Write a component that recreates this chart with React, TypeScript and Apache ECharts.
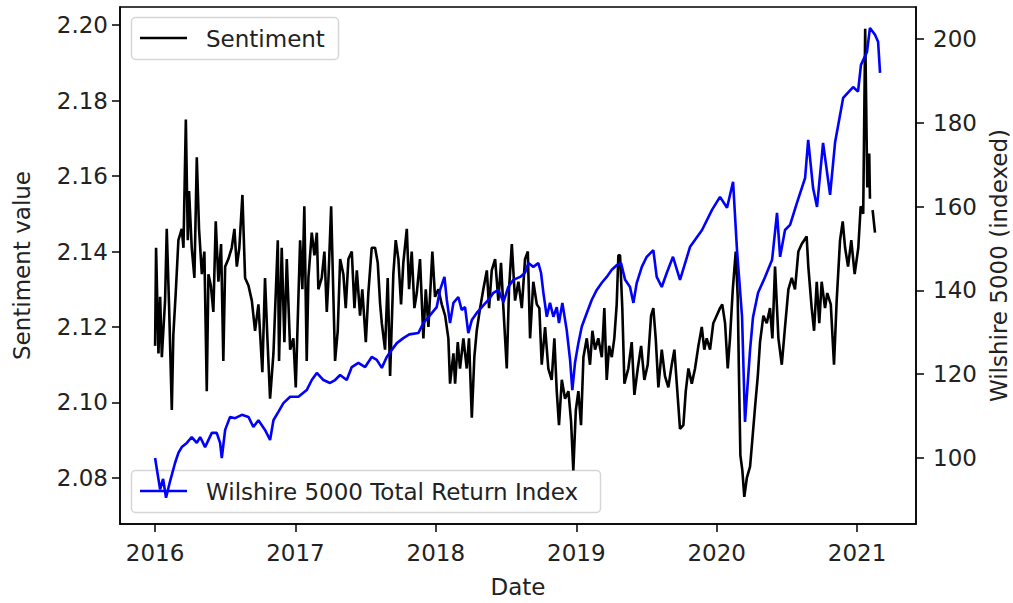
import React, { useEffect, useRef } from "react";
import * as echarts from "echarts";

// Sentiment (left axis), x in decimal years
const sentimentDates: number[] = [
  2016.0, 2016.007, 2016.024, 2016.036, 2016.048, 2016.071, 2016.083, 2016.1, 2016.119, 2016.13,
  2016.147, 2016.166, 2016.19, 2016.202, 2016.219, 2016.233, 2016.242, 2016.261, 2016.28, 2016.297,
  2016.313, 2016.333, 2016.351, 2016.368, 2016.38, 2016.397, 2016.415, 2016.432, 2016.451, 2016.47,
  2016.486, 2016.499, 2016.522, 2016.546, 2016.565, 2016.582, 2016.6, 2016.622, 2016.641, 2016.665,
  2016.689, 2016.712, 2016.736, 2016.764, 2016.783, 2016.8, 2016.819, 2016.843, 2016.874, 2016.883,
  2016.902, 2016.921, 2016.938, 2016.962, 2016.985, 2017.002, 2017.021, 2017.033, 2017.049, 2017.063,
  2017.08, 2017.092, 2017.116, 2017.135, 2017.152, 2017.163, 2017.187, 2017.206, 2017.223, 2017.234,
  2017.254, 2017.27, 2017.282, 2017.301, 2017.318, 2017.341, 2017.358, 2017.377, 2017.401, 2017.42,
  2017.437, 2017.46, 2017.476, 2017.501, 2017.519, 2017.543, 2017.567, 2017.586, 2017.603, 2017.615,
  2017.638, 2017.657, 2017.674, 2017.697, 2017.714, 2017.733, 2017.752, 2017.768, 2017.793, 2017.809,
  2017.828, 2017.847, 2017.864, 2017.887, 2017.911, 2017.928, 2017.947, 2017.975, 2017.994, 2018.018,
  2018.042, 2018.066, 2018.089, 2018.101, 2018.125, 2018.137, 2018.156, 2018.172, 2018.196, 2018.22,
  2018.236, 2018.256, 2018.274, 2018.291, 2018.315, 2018.338, 2018.363, 2018.379, 2018.398, 2018.422,
  2018.445, 2018.464, 2018.481, 2018.505, 2018.521, 2018.541, 2018.564, 2018.588, 2018.612, 2018.635,
  2018.655, 2018.671, 2018.694, 2018.719, 2018.737, 2018.754, 2018.778, 2018.801, 2018.825, 2018.844,
  2018.861, 2018.877, 2018.897, 2018.92, 2018.944, 2018.963, 2018.979, 2018.997, 2019.015, 2019.034,
  2019.051, 2019.075, 2019.098, 2019.115, 2019.134, 2019.157, 2019.182, 2019.2, 2019.217, 2019.234,
  2019.253, 2019.271, 2019.288, 2019.3, 2019.312, 2019.328, 2019.343, 2019.371, 2019.395, 2019.414,
  2019.438, 2019.462, 2019.485, 2019.509, 2019.533, 2019.549, 2019.566, 2019.585, 2019.609, 2019.632,
  2019.656, 2019.68, 2019.699, 2019.716, 2019.739, 2019.763, 2019.78, 2019.799, 2019.823, 2019.846,
  2019.87, 2019.894, 2019.912, 2019.929, 2019.953, 2019.976, 2020.0, 2020.024, 2020.04, 2020.06,
  2020.079, 2020.095, 2020.115, 2020.136, 2020.15, 2020.16, 2020.169, 2020.183, 2020.197, 2020.215,
  2020.238, 2020.254, 2020.274, 2020.293, 2020.309, 2020.333, 2020.357, 2020.38, 2020.397, 2020.416,
  2020.44, 2020.464, 2020.487, 2020.511, 2020.535, 2020.558, 2020.582, 2020.606, 2020.641, 2020.653,
  2020.677, 2020.694, 2020.713, 2020.731, 2020.748, 2020.772, 2020.788, 2020.813, 2020.836, 2020.855,
  2020.879, 2020.898, 2020.915, 2020.936, 2020.959, 2020.983, 2021.009, 2021.026, 2021.044, 2021.058,
  2021.073, 2021.087, 2021.092, 2021.1, 2021.111, 2021.128,
];
const sentimentValues: (number | null)[] = [
  2.115, 2.141, 2.113, 2.128, 2.112, 2.127, 2.146, 2.125, 2.098, 2.118,
  2.129, 2.143, 2.146, 2.141, 2.175, 2.143, 2.156, 2.141, 2.133, 2.165,
  2.146, 2.134, 2.14, 2.103, 2.134, 2.131, 2.124, 2.148, 2.132, 2.142,
  2.111, 2.136, 2.138, 2.141, 2.146, 2.136, 2.141, 2.155, 2.133, 2.131,
  2.127, 2.119, 2.126, 2.108, 2.133, 2.117, 2.101, 2.113, 2.143, 2.111,
  2.141, 2.116, 2.138, 2.114, 2.117, 2.104, 2.128, 2.143, 2.13, 2.152,
  2.111, 2.133, 2.145, 2.139, 2.145, 2.13, 2.133, 2.14, 2.124, 2.132,
  2.152, 2.128, 2.111, 2.119, 2.138, 2.134, 2.125, 2.138, 2.14, 2.125,
  2.135, 2.123, 2.13, 2.116, 2.129, 2.141, 2.141, 2.137, 2.126, 2.121,
  2.114, 2.133, 2.107, 2.134, 2.143, 2.138, 2.126, 2.137, 2.146, 2.13,
  2.14, 2.125, 2.129, 2.138, 2.117, 2.13, 2.12, 2.14, 2.128, 2.13,
  2.126, 2.123, 2.117, 2.105, 2.113, 2.105, 2.116, 2.109, 2.117, 2.109,
  2.117, 2.096, 2.112, 2.119, 2.125, 2.13, 2.135, 2.125, 2.135, 2.138,
  2.127, 2.137, 2.125, 2.109, 2.13, 2.142, 2.127, 2.132, 2.125, 2.138,
  2.14, 2.117, 2.132, 2.126, 2.125, 2.11, 2.12, 2.109, 2.106, 2.117,
  2.103, 2.094, 2.106, 2.101, 2.103, 2.095, 2.082, 2.098, 2.103, 2.094,
  2.112, 2.117, 2.11, 2.119, 2.114, 2.117, 2.112, 2.125, 2.106, 2.115,
  2.112, 2.117, 2.126, 2.139, 2.139, 2.125, 2.105, 2.109, 2.116, 2.102,
  2.109, 2.115, 2.106, 2.11, 2.123, 2.125, 2.117, 2.104, 2.114, 2.107,
  2.104, 2.11, 2.114, 2.105, 2.093, 2.094, 2.103, 2.109, 2.105, 2.109,
  2.115, 2.12, 2.114, 2.117, 2.114, 2.121, 2.123, 2.125, 2.126, 2.121,
  2.109, 2.117, 2.13, 2.14, 2.128, 2.105, 2.086, 2.082, 2.075, 2.08,
  2.083, 2.09, 2.099, 2.107, 2.116, 2.123, 2.121, 2.125, 2.117, 2.136,
  2.117, 2.11, 2.12, 2.13, 2.133, 2.13, 2.14, 2.142, 2.144, 2.136,
  2.125, 2.119, 2.132, 2.121, 2.132, 2.125, 2.129, 2.126, 2.11, 2.127,
  2.143, 2.148, 2.141, 2.136, 2.143, 2.134, 2.141, 2.152, 2.15, 2.199,
  2.157, 2.166, 2.154, null, 2.151, 2.145,
];

// Wilshire 5000 Total Return Index, indexed (right axis)
const wilshireDates: number[] = [
  2016.0, 2016.014, 2016.036, 2016.057, 2016.078, 2016.107, 2016.142, 2016.166, 2016.19, 2016.226,
  2016.261, 2016.297, 2016.321, 2016.356, 2016.404, 2016.439, 2016.463, 2016.475, 2016.499, 2016.534,
  2016.57, 2016.618, 2016.665, 2016.7, 2016.736, 2016.783, 2016.819, 2016.843, 2016.878, 2016.914,
  2016.962, 2017.021, 2017.08, 2017.116, 2017.152, 2017.199, 2017.246, 2017.282, 2017.318, 2017.365,
  2017.401, 2017.448, 2017.496, 2017.543, 2017.579, 2017.615, 2017.65, 2017.686, 2017.722, 2017.768,
  2017.811, 2017.875, 2017.911, 2017.959, 2018.006, 2018.03, 2018.061, 2018.078, 2018.101, 2018.125,
  2018.16, 2018.184, 2018.208, 2018.231, 2018.256, 2018.291, 2018.327, 2018.374, 2018.41, 2018.445,
  2018.481, 2018.516, 2018.552, 2018.6, 2018.635, 2018.659, 2018.694, 2018.73, 2018.749, 2018.766,
  2018.79, 2018.813, 2018.837, 2018.861, 2018.877, 2018.901, 2018.932, 2018.956, 2018.972, 2018.991,
  2019.015, 2019.039, 2019.075, 2019.11, 2019.146, 2019.182, 2019.217, 2019.253, 2019.288, 2019.319,
  2019.348, 2019.383, 2019.407, 2019.431, 2019.467, 2019.502, 2019.549, 2019.573, 2019.609, 2019.645,
  2019.689, 2019.739, 2019.811, 2019.896, 2019.967, 2020.024, 2020.074, 2020.117, 2020.145, 2020.181,
  2020.202, 2020.238, 2020.259, 2020.295, 2020.345, 2020.395, 2020.43, 2020.452, 2020.487, 2020.523,
  2020.573, 2020.63, 2020.652, 2020.687, 2020.715, 2020.758, 2020.808, 2020.844, 2020.901, 2020.972,
  2021.007, 2021.028, 2021.071, 2021.092, 2021.128, 2021.15, 2021.164,
];
const wilshireValues: number[] = [
  100.0, 97.0, 92.5, 95.0, 90.5, 94.5, 98.8, 101.2, 102.6, 103.6,
  105.0, 103.6, 105.0, 102.6, 106.0, 106.0, 103.6, 100.0, 106.7, 109.8,
  109.5, 110.3, 109.8, 107.4, 109.0, 106.7, 104.3, 109.0, 111.0, 113.1,
  114.6, 114.6, 116.2, 118.6, 120.3, 118.6, 117.9, 118.6, 119.8, 118.6,
  121.7, 122.7, 121.7, 124.1, 123.4, 121.5, 124.1, 125.8, 127.4, 128.6,
  129.5, 129.8, 132.2, 134.1, 136.0, 140.1, 143.2, 137.7, 132.2, 137.0,
  138.4, 135.3, 136.0, 129.8, 132.9, 134.6, 136.0, 137.7, 139.4, 140.1,
  137.2, 140.8, 142.5, 143.2, 144.2, 146.5, 145.6, 146.5, 144.2, 139.4,
  133.7, 137.0, 133.7, 136.0, 132.2, 137.0, 130.5, 123.4, 116.2, 122.7,
  127.4, 131.3, 134.6, 137.7, 140.1, 141.8, 143.2, 144.9, 146.0, 146.5,
  142.5, 140.8, 137.0, 141.8, 145.6, 148.0, 149.6, 143.2, 140.8, 144.2,
  148.0, 142.5, 150.4, 154.4, 159.2, 162.3, 159.7, 165.9, 149.6, 133.7,
  108.6, 125.8, 133.6, 139.4, 143.2, 147.3, 158.5, 148.0, 154.4, 155.6,
  161.0, 166.8, 175.9, 164.4, 159.9, 175.2, 162.8, 175.4, 185.9, 188.5,
  187.4, 193.8, 196.9, 202.6, 201.0, 199.3, 191.9,
];

const yearTicks: number[] = [2016, 2017, 2018, 2019, 2020, 2021];
const sentimentTicks: number[] = [2.08, 2.1, 2.12, 2.14, 2.16, 2.18, 2.2];
const wilshireTicks: number[] = [100, 120, 140, 160, 180, 200];

const FONT = "DejaVu Sans";
const FS = 23;
const TXT = "#222222";

export default function App() {
  const ref = useRef<HTMLDivElement>(null);
  useEffect(() => {
    if (!ref.current) return;
    const chart = echarts.init(ref.current, undefined, { renderer: "svg" });
    const sentData = sentimentDates.map((d, i) => [d, sentimentValues[i] === null ? "-" : sentimentValues[i]]);
    const wilData = wilshireDates.map((d, i) => [d, wilshireValues[i]]);
    const tickStyle = { show: true, inside: false, length: 8, lineStyle: { color: "#000", width: 1.5 } };
    const labelStyle = { fontFamily: FONT, fontSize: FS, color: TXT };
    const axisLine = { show: true, lineStyle: { color: "#000", width: 1.5 } };
    chart.setOption({
      animation: false,
      backgroundColor: "#fff",
      grid: {
        left: 120, right: 97, top: 7, bottom: 79,
        containLabel: false,
        outerBoundsMode: "none",
        show: true, borderColor: "#000", borderWidth: 1.5, backgroundColor: "transparent",
      },
      xAxis: {
        type: "value",
        min: 2015.75,
        max: 2021.42,
        name: "Date",
        nameLocation: "middle",
        nameGap: 51,
        nameTextStyle: { fontFamily: FONT, fontSize: FS, color: TXT },
        axisLine,
        axisTick: { ...tickStyle, customValues: yearTicks },
        axisLabel: { ...labelStyle, margin: 17, customValues: yearTicks, formatter: (v: number) => String(Math.round(v)) },
        splitLine: { show: false },
      },
      yAxis: [
        {
          type: "value",
          position: "left",
          min: 2.0678,
          max: 2.2048,
          name: "Sentiment value",
          nameLocation: "middle",
          nameGap: 87,
          nameTextStyle: { fontFamily: FONT, fontSize: FS, color: TXT },
          axisLine,
          axisTick: { ...tickStyle, customValues: sentimentTicks },
          axisLabel: { ...labelStyle, margin: 12, customValues: sentimentTicks, formatter: (v: number) => v.toFixed(2) },
          splitLine: { show: false },
        },
        {
          type: "value",
          position: "right",
          min: 84.25,
          max: 207.6,
          name: "Wilshire 5000 (indexed)",
          nameLocation: "middle",
          nameGap: 68,
          nameRotate: 90,
          nameTextStyle: { fontFamily: FONT, fontSize: FS, color: TXT },
          axisLine,
          axisTick: { ...tickStyle, customValues: wilshireTicks },
          axisLabel: { ...labelStyle, margin: 17, customValues: wilshireTicks, formatter: (v: number) => String(v) },
          splitLine: { show: false },
        },
      ],
      series: [
        {
          name: "Sentiment",
          type: "line",
          yAxisIndex: 0,
          data: sentData,
          showSymbol: false,
          symbol: "none",
          connectNulls: false,
          lineStyle: { color: "#000000", width: 2.6 },
          z: 2,
        },
        {
          name: "Wilshire 5000 Total Return Index",
          type: "line",
          yAxisIndex: 1,
          data: wilData,
          showSymbol: false,
          symbol: "none",
          lineStyle: { color: "#0000ff", width: 2.6 },
          z: 3,
        },
      ],
      graphic: [
        {
          type: "group",
          z: 100,
          children: [
            {
              type: "rect",
              shape: { x: 131.5, y: 17.5, width: 207, height: 42, r: 4 },
              style: { fill: "rgba(255,255,255,0.8)", stroke: "#d6d6d6", lineWidth: 1.5 },
            },
            { type: "line", shape: { x1: 140, y1: 38, x2: 187, y2: 38 }, style: { stroke: "#000", lineWidth: 2.6 } },
            {
              type: "text",
              x: 206, y: 39,
              style: { text: "Sentiment", fontFamily: FONT, fontSize: FS, fill: TXT, verticalAlign: "middle" },
            },
          ],
        },
        {
          type: "group",
          z: 100,
          children: [
            {
              type: "rect",
              shape: { x: 131.5, y: 470.5, width: 469, height: 42, r: 4 },
              style: { fill: "rgba(255,255,255,0.8)", stroke: "#d6d6d6", lineWidth: 1.5 },
            },
            { type: "line", shape: { x1: 140, y1: 491, x2: 187, y2: 491 }, style: { stroke: "#0000ff", lineWidth: 2.6 } },
            {
              type: "text",
              x: 206, y: 492,
              style: { text: "Wilshire 5000 Total Return Index", fontFamily: FONT, fontSize: FS, fill: TXT, verticalAlign: "middle" },
            },
          ],
        },
      ],
    });
    return () => chart.dispose();
  }, []);
  return <div ref={ref} style={{ position: "fixed", left: 0, top: 0, width: 1013, height: 603 }} />;
}
